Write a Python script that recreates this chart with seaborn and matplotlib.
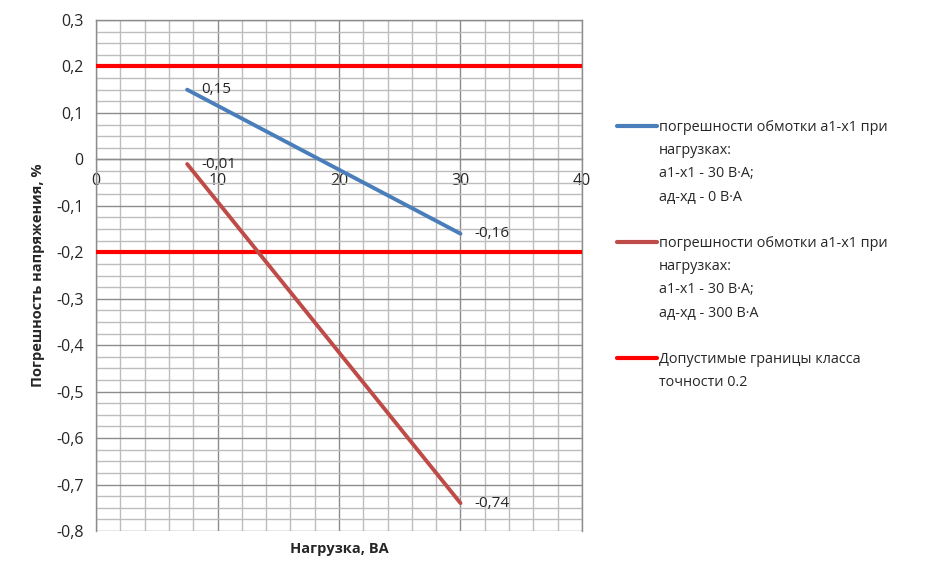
import numpy as np
import pandas as pd
import seaborn as sns
from matplotlib import pyplot as plt
from matplotlib.lines import Line2D
from matplotlib.ticker import MultipleLocator, FuncFormatter

sns.set_style('white')
plt.rcParams['font.family'] = ['Open Sans', 'DejaVu Sans']

# нагрузка, ВА
load = [7.5, 30]
# погрешность, % (а1-х1 30 ВА, ад-хд 0 ВА)
err_0 = [0.15, -0.16]
# погрешность, % (а1-х1 30 ВА, ад-хд 300 ВА)
err_300 = [-0.01, -0.74]
# границы класса точности 0.2
limits = [0.2, -0.2]
x_range = [0, 40]

blue = '#4A7EBB'
brick = '#BE4B48'
red = '#FF0000'
grid_major = '#8C8C8C'

fig = plt.figure(figsize=(9.26, 5.63), dpi=100)
ax = fig.add_axes([0.1037, 0.0568, 0.5248, 0.9077])

df = pd.DataFrame({'x': load * 2,
                   'y': err_0 + err_300,
                   's': ['a'] * 2 + ['b'] * 2})
sns.lineplot(data=df, x='x', y='y', hue='s', palette=[blue, brick],
             linewidth=2.8, legend=False, ax=ax, zorder=4)
for lim in limits:
    sns.lineplot(x=x_range, y=[lim, lim], color=red, linewidth=3, ax=ax, zorder=3)

# подписи значений
for xs, ys in [(load, err_0), (load, err_300)]:
    for xv, yv in zip(xs, ys):
        ax.annotate(f'{yv:.2f}'.replace('.', ','), (xv, yv), xytext=(10, 0),
                    textcoords='offset points', va='center', ha='left', fontsize=11)

ax.set_xlim(0, 40)
ax.set_ylim(-0.8, 0.3)
ax.xaxis.set_major_locator(MultipleLocator(10))
ax.xaxis.set_minor_locator(MultipleLocator(2))
ax.yaxis.set_major_locator(MultipleLocator(0.1))
ax.yaxis.set_minor_locator(MultipleLocator(0.025))
ax.grid(which='minor', color='#BDBDBD', linewidth=1.0)
ax.grid(which='major', color=grid_major, linewidth=1.0)
ax.set_axisbelow(True)

def fmt(v, pos):
    v = round(v, 2)
    if abs(v) < 1e-9:
        return '0'
    return f'{v:g}'.replace('.', ',')

ax.yaxis.set_major_formatter(FuncFormatter(fmt))
ax.spines['left'].set_position(('data', 0))
ax.spines['bottom'].set_position(('data', 0))
for side in ['left', 'bottom', 'top', 'right']:
    ax.spines[side].set_color(grid_major)
    ax.spines[side].set_linewidth(1.0)
ax.tick_params(axis='y', which='major', length=5, color=grid_major, labelsize=11.5, pad=4)
ax.tick_params(axis='x', which='major', length=0, labelsize=11.5, pad=10)
ax.tick_params(which='minor', length=0)

ax.set_xlabel('Нагрузка, ВА', fontsize=10.5, fontweight='bold')
ax.set_ylabel('Погрешность напряжения, %', fontsize=10.5, fontweight='bold', labelpad=8)
ax.xaxis.set_label_coords(0.5, -0.022)

blank = Line2D([], [], color='none')
handles = [Line2D([], [], color=blue, linewidth=3), blank, blank, blank, blank,
           Line2D([], [], color=brick, linewidth=3), blank, blank, blank, blank,
           Line2D([], [], color=red, linewidth=3), blank]
labels = ['погрешности обмотки а1-х1 при', 'нагрузках:', 'а1-х1 - 30 В·А;', 'ад-хд - 0 В·А', ' ',
          'погрешности обмотки а1-х1 при', 'нагрузках:', 'а1-х1 - 30 В·А;', 'ад-хд - 300 В·А', ' ',
          'Допустимые границы класса', 'точности 0.2']
fig.legend(handles, labels, loc='upper left', bbox_to_anchor=(0.659, 0.8),
           frameon=False, fontsize=10.4, handlelength=2.75, handletextpad=0.1,
           labelspacing=0.57, borderpad=0)

fig.savefig('out.png', dpi=100)
